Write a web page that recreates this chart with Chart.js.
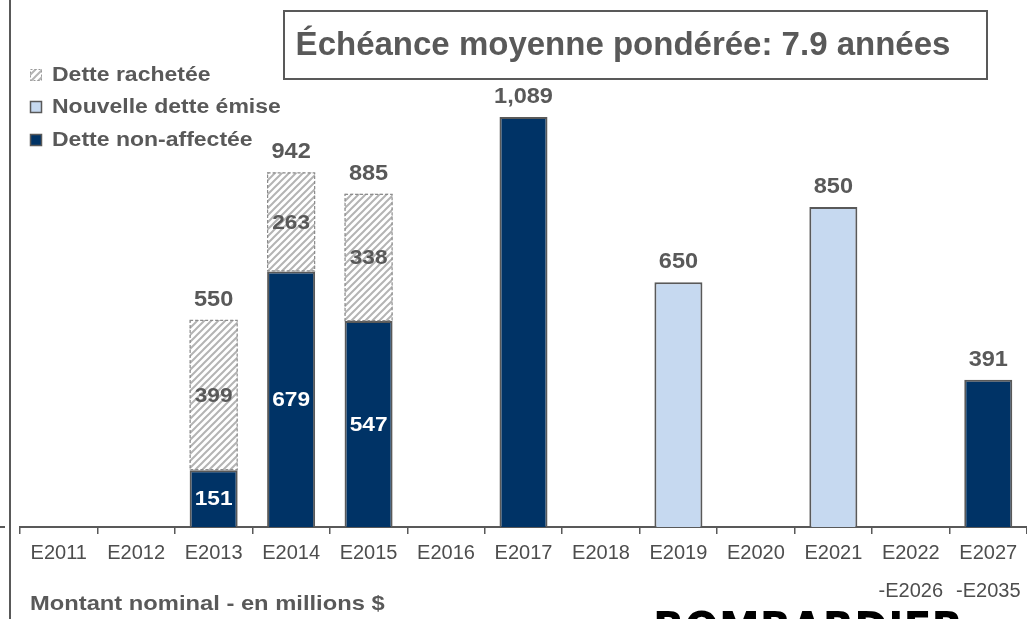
<!DOCTYPE html>
<html>
<head>
<meta charset="utf-8">
<script src="https://cdn.jsdelivr.net/npm/chart.js"></script>
<style>
  html, body { margin: 0; padding: 0; background: #fff; }
  canvas { display: block; }
</style>
</head>
<body>
<canvas id="echeances" width="1027" height="619"></canvas>
<script>
// data
var categories = ['E2011', 'E2012', 'E2013', 'E2014', 'E2015', 'E2016', 'E2017', 'E2018',
                  'E2019', 'E2020', 'E2021', ['E2022', '-E2026'], ['E2027', '-E2035']];
var detteNonAffectee = [null, null, 151, 679, 547, null, 1089, null, null, null, null, null, 391];
var nouvelleDette    = [null, null, null, null, null, null, null, null, 650, null, 850, null, null];
var detteRachetee    = [null, null, 399, 263, 338, null, null, null, null, null, null, null, null];
var titreEncadre = 'Échéance moyenne pondérée: 7.9 années';
var noteMontant = 'Montant nominal - en millions $';

var FONT = '"Liberation Sans", Arial, sans-serif';
var GRIS = '#595959';
var MARINE = '#003366';
var BLEU_PALE = '#c6d9f0';

// hatch pattern for the repurchased debt
function makeHatch() {
    var s = 7;
    var c = document.createElement('canvas');
    c.width = s; c.height = s;
    var g = c.getContext('2d');
    g.fillStyle = '#fff';
    g.fillRect(0, 0, s, s);
    g.strokeStyle = '#b4b4b4';
    g.lineWidth = 2;
    g.beginPath();
    g.moveTo(0, s); g.lineTo(s, 0);
    g.moveTo(-1, 1); g.lineTo(1, -1);
    g.moveTo(s - 1, s + 1); g.lineTo(s + 1, s - 1);
    g.stroke();
    return g.createPattern(c, 'repeat');
}
var hachure = makeHatch();

function texte(ctx, str, x, y, font, color, sx, align) {
    ctx.save();
    ctx.font = font;
    ctx.fillStyle = color;
    ctx.textBaseline = 'middle';
    ctx.textAlign = align || 'center';
    ctx.translate(x, y);
    ctx.scale(sx || 1, 1);
    ctx.fillText(str, 0, 0);
    ctx.restore();
}

// slide decorations: frame line, boxed title, legend, footnote, logo
var decorPlugin = {
    id: 'decor',
    afterDraw: function (chart) {
        var ctx = chart.ctx;
        var area = chart.chartArea;
        ctx.save();
        ctx.strokeStyle = GRIS;
        ctx.lineWidth = 2;
        ctx.beginPath();
        ctx.moveTo(10, 0); ctx.lineTo(10, chart.height);
        ctx.moveTo(0, area.bottom); ctx.lineTo(5, area.bottom);
        ctx.stroke();

        // boxed title
        ctx.fillStyle = '#fff';
        ctx.fillRect(284, 11, 703, 68);
        ctx.strokeRect(284, 11, 703, 68);
        ctx.restore();
        texte(ctx, titreEncadre, 623, 46, 'bold 33px ' + FONT, GRIS, 1);

        // legend (top to bottom = reverse of stacking order)
        var ys = [75, 107, 140];
        var sets = chart.data.datasets.slice().reverse();
        sets.forEach(function (ds, k) {
            var y = ys[k];
            ctx.save();
            ctx.fillStyle = ds.backgroundColor;
            ctx.fillRect(30, y - 6, 12, 12);
            ctx.strokeStyle = ds.dashed ? '#9a9a9a' : GRIS;
            ctx.lineWidth = ds.dashed ? 1 : 1.5;
            if (ds.dashed) ctx.setLineDash([2, 2]);
            ctx.strokeRect(30.5, y - 5.5, 11, 11);
            ctx.restore();
            texte(ctx, ds.label, 52, y, 'bold 20px ' + FONT, GRIS, 1.15, 'left');
        });

        // footnote
        texte(ctx, noteMontant, 30, 604, 'bold 21px ' + FONT, GRIS, 1.13, 'left');

        // logo, cut by the bottom edge
        ctx.save();
        ctx.font = '900 46px "DejaVu Sans", ' + FONT;
        ctx.fillStyle = '#000';
        ctx.textBaseline = 'alphabetic';
        var w = ctx.measureText('BOMBARDIER').width;
        ctx.translate(653, 645);
        ctx.scale(310 / w, 1);
        ctx.fillText('BOMBARDIER', 0, 0);
        ctx.restore();
    }
};

// dashed outline on hatched bars + value labels
var etiquettesPlugin = {
    id: 'etiquettes',
    afterDatasetsDraw: function (chart) {
        var ctx = chart.ctx;
        var sets = chart.data.datasets;
        sets.forEach(function (ds, d) {
            if (!ds.dashed) return;
            chart.getDatasetMeta(d).data.forEach(function (el, i) {
                if (ds.data[i] == null) return;
                ctx.save();
                ctx.strokeStyle = '#8c8c8c';
                ctx.lineWidth = 1.2;
                ctx.setLineDash([3, 2]);
                ctx.strokeRect(el.x - el.width / 2 + 0.5, el.y + 0.5, el.width - 1, el.base - el.y - 1);
                ctx.restore();
            });
        });
        categories.forEach(function (c, i) {
            var segs = [];
            sets.forEach(function (ds, d) {
                if (ds.data[i] != null) segs.push({ ds: ds, v: ds.data[i], el: chart.getDatasetMeta(d).data[i] });
            });
            if (!segs.length) return;
            var total = 0, top = Infinity;
            segs.forEach(function (s) {
                total += s.v;
                top = Math.min(top, s.el.y);
                if (segs.length > 1) {
                    texte(ctx, String(s.v), s.el.x, (s.el.y + s.el.base) / 2 + 1,
                          'bold 21px ' + FONT, s.ds.labelColor, 1.08);
                }
            });
            texte(ctx, total.toLocaleString('en-US'), segs[0].el.x, top - 20,
                  'bold 22px ' + FONT, GRIS, 1.07);
        });
    }
};

var ctxEch = document.getElementById('echeances').getContext('2d');
var echChart = new Chart(ctxEch, {
    type: 'bar',
    data: {
        labels: categories,
        datasets: [{
            label: 'Dette non-affectée',
            data: detteNonAffectee,
            backgroundColor: MARINE,
            borderColor: GRIS,
            borderWidth: 2,
            labelColor: '#fff'
        }, {
            label: 'Nouvelle dette émise',
            data: nouvelleDette,
            backgroundColor: BLEU_PALE,
            borderColor: GRIS,
            borderWidth: 2,
            labelColor: GRIS
        }, {
            label: 'Dette rachetée',
            data: detteRachetee,
            backgroundColor: hachure,
            borderWidth: 0,
            dashed: true,
            labelColor: GRIS
        }]
    },
    options: {
        responsive: false,
        animation: false,
        events: [],
        layout: { padding: { left: 20, top: 0, right: 0, bottom: 0 } },
        datasets: { bar: { categoryPercentage: 1, barPercentage: 0.62 } },
        plugins: { legend: { display: false }, tooltip: { enabled: false } },
        scales: {
            x: {
                stacked: true,
                afterFit: function (s) { s.height = 92; },
                border: { color: GRIS, width: 2 },
                grid: { drawOnChartArea: false, tickLength: 7, color: GRIS, lineWidth: 1.5 },
                ticks: {
                    autoSkip: false,
                    maxRotation: 0,
                    padding: 0,
                    color: '#4d4d4d',
                    font: { family: FONT, size: 20, lineHeight: 1.9 }
                }
            },
            y: {
                stacked: true,
                display: false,
                min: 0,
                max: 1400
            }
        }
    },
    plugins: [etiquettesPlugin, decorPlugin]
});
</script>
</body>
</html>
